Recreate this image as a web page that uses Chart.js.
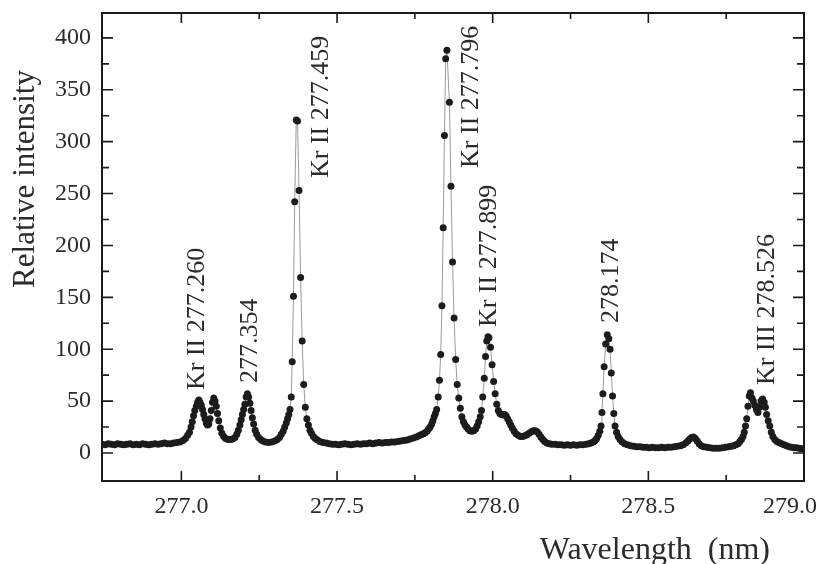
<!DOCTYPE html>
<html>
<head>
<meta charset="utf-8">
<script src="https://cdn.jsdelivr.net/npm/chart.js@4.4.1/dist/chart.umd.min.js"></script>
<style>
  html, body { margin: 0; padding: 0; background: #ffffff; }
  canvas { display: block; }
</style>
</head>
<body>
<canvas id="c" width="825" height="564"></canvas>
<script>
// ---- data ----
const wavelength = [
276.745,276.755,276.765,276.775,276.785,276.795,276.805,276.815,276.825,276.835,
276.845,276.855,276.865,276.875,276.885,276.895,276.905,276.915,276.925,276.935,
276.945,276.955,276.965,276.975,276.985,276.995,277.005,277.013,277.020,277.026,
277.031,277.035,277.039,277.043,277.048,277.052,277.056,277.060,277.064,277.068,
277.072,277.076,277.080,277.084,277.088,277.092,277.096,277.100,277.104,277.108,
277.112,277.116,277.120,277.125,277.130,277.136,277.142,277.150,277.158,277.165,
277.172,277.178,277.183,277.188,277.192,277.196,277.200,277.204,277.208,277.212,
277.216,277.220,277.224,277.228,277.232,277.237,277.242,277.248,277.255,277.262,
277.270,277.280,277.290,277.300,277.308,277.315,277.321,277.327,277.332,277.337,
277.341,277.345,277.349,277.353,277.356,277.360,277.364,277.369,277.373,277.378,
277.383,277.388,277.393,277.398,277.403,277.408,277.413,277.418,277.424,277.430,
277.437,277.445,277.455,277.465,277.475,277.485,277.495,277.505,277.515,277.525,
277.535,277.545,277.555,277.565,277.575,277.585,277.595,277.605,277.615,277.625,
277.635,277.645,277.655,277.665,277.675,277.685,277.695,277.705,277.715,277.725,
277.735,277.745,277.755,277.763,277.770,277.777,277.783,277.789,277.794,277.799,
277.804,277.808,277.812,277.816,277.820,277.825,277.829,277.833,277.837,277.841,
277.845,277.849,277.853,277.861,277.866,277.871,277.876,277.881,277.886,277.891,
277.896,277.901,277.906,277.911,277.916,277.921,277.927,277.933,277.939,277.945,
277.950,277.955,277.960,277.964,277.968,277.973,277.977,277.981,277.985,277.988,
277.993,277.998,278.003,278.008,278.013,278.018,278.023,278.028,278.033,278.038,
278.043,278.048,278.053,278.058,278.063,278.069,278.075,278.082,278.089,278.096,
278.103,278.110,278.117,278.124,278.131,278.137,278.143,278.149,278.155,278.161,
278.167,278.174,278.182,278.190,278.200,278.210,278.220,278.230,278.240,278.250,
278.260,278.270,278.280,278.290,278.300,278.308,278.316,278.323,278.329,278.334,
278.339,278.344,278.348,278.351,278.354,278.358,278.363,278.368,278.373,278.377,
278.381,278.385,278.389,278.393,278.398,278.403,278.409,278.416,278.424,278.433,
278.443,278.453,278.463,278.473,278.483,278.493,278.503,278.513,278.523,278.533,
278.543,278.553,278.563,278.573,278.583,278.593,278.603,278.612,278.620,278.627,
278.633,278.639,278.645,278.651,278.657,278.663,278.670,278.678,278.688,278.698,
278.708,278.718,278.728,278.738,278.748,278.758,278.766,278.774,278.781,278.788,
278.794,278.799,278.804,278.808,278.812,278.816,278.820,278.824,278.828,278.833,
278.837,278.842,278.847,278.852,278.857,278.862,278.867,278.872,278.876,278.880,
278.885,278.890,278.895,278.900,278.906,278.913,278.920,278.928,278.936,278.944,
278.952,278.960,278.968,278.976,278.984,278.992,279.000
];
const intensity = [
8.5,8,9,8.5,8,9,8.5,8,8.5,9,
8,8.5,8,9,8.5,8,8.5,9,8.5,9,
9.5,9,9,9.5,10,10.5,12,14,17,20,
25,30,36,41,45,49,51,49,46,42,
37,33,29,27,28,33,41,49,53,50,
45,38,31,24,19,16,14,13,13,13.5,
15,18,22,27,32,37,42,47,54,57,
54,48,41,34,28,22,18,15,13,11.5,
10.5,10,10.5,11.5,13,15,18,21,25,29,
33,37,42,54,88,151,242,321,320,253,
169,108,66,44,33,27,22,19,16,14,
12.5,11,10,9.5,9,8.5,8.5,8,8.5,9,
8.5,8,8.5,9,8.5,9,9,9.5,9,9.5,
10,9.5,10,10,10.5,10.5,11,11.5,12,12.5,
13.5,14.5,15.5,16.5,17.5,18.5,19.5,21,23,25,
28,31,35,38,42,54,70,95,142,217,
306,380,388,338,257,184,130,90,66,53,
43,35,30,27,25,23,21.5,21,21.5,23,
26,30,35,41,54,72,93,108,112,111,
102,85,69,57,47,41,38,37,36.5,37,
36,33,30,27,24,21,18.5,17,16,16,
16.5,17.5,19,20.5,21.5,21.5,20.5,18,15.5,13,
11,9.5,9,8.5,8.5,8,8,7.5,8,7.5,
8,7.5,8,8,8.5,9,9.5,10.5,12,14,
17,21,26,39,57,83,105,114,110,100,
77,55,38,26,20,16,13,10.5,9,8,
7,6.5,6,6,5.5,5.5,5,5.5,5,5,
5.5,5,5.5,5.5,6,6.5,7,8,9.5,11.5,
13.5,15,15.5,14,11.5,9,7,6,5.5,5,
4.5,4.5,4.5,5,5.5,6,6.5,7,8,9,
11,13,16,20,26,33,45,55,58,53,
50,46,42,39,44,50,52,49,44,37,
31,26,20,16,13,11,10,9,8,7,
6,5.5,5,5,4.5,4,4
];
const xTickValues = [277.0, 277.5, 278.0, 278.5, 279.0];
const xMinorValues = [277.25, 277.75, 278.25, 278.75];
const yTickValues = [0, 50, 100, 150, 200, 250, 300, 350, 400];
const yMinorValues = [25, 75, 125, 175, 225, 275, 325, 375];
const lineLabels = ['Kr II 277.260', '277.354', 'Kr II 277.459', 'Kr II 277.796', 'Kr II 277.899', '278.174', 'Kr III 278.526'];
const labelWavelength = [277.050, 277.221, 277.449, 277.931, 277.990, 278.381, 278.881];
const labelIntensity = [60.7, 67.5, 265, 274.7, 121.4, 125.3, 65.5];
const xTitle = 'Wavelength  (nm)';
const yTitle = 'Relative intensity';

// ---- rendering ----
const FONT = '"Liberation Serif", "Times New Roman", serif';
const TEXT = '#2b2b2b';
const points = wavelength.map((w, i) => ({ x: w, y: intensity[i] }));

const framePlugin = {
  id: 'frame',
  afterDatasetsDraw(chart) {
    const { ctx, chartArea: a, scales: { x, y } } = chart;
    ctx.save();
    ctx.strokeStyle = '#1a1a1a';
    ctx.lineWidth = 2;
    ctx.strokeRect(a.left, a.top, a.right - a.left, a.bottom - a.top);
    ctx.lineWidth = 1.6;
    ctx.beginPath();
    const vt = (v, len) => {
      const px = x.getPixelForValue(v);
      ctx.moveTo(px, a.bottom); ctx.lineTo(px, a.bottom - len);
      ctx.moveTo(px, a.top); ctx.lineTo(px, a.top + len);
    };
    const ht = (v, len) => {
      const py = y.getPixelForValue(v);
      ctx.moveTo(a.left, py); ctx.lineTo(a.left + len, py);
      ctx.moveTo(a.right, py); ctx.lineTo(a.right - len, py);
    };
    xTickValues.forEach(v => vt(v, 10));
    xMinorValues.forEach(v => vt(v, 6));
    yTickValues.forEach(v => ht(v, 11));
    yMinorValues.forEach(v => ht(v, 7));
    ctx.stroke();

    // x tick labels (last one kept inside the page as in the original)
    ctx.fillStyle = TEXT;
    ctx.font = '24px ' + FONT;
    ctx.textBaseline = 'alphabetic';
    ctx.textAlign = 'center';
    xTickValues.forEach((v, i) => {
      let px = x.getPixelForValue(v);
      if (i === xTickValues.length - 1) px -= 14;
      ctx.fillText(v.toFixed(1), px, a.bottom + 32);
    });

    ctx.font = '26px ' + FONT;
    ctx.textAlign = 'left';
    ctx.textBaseline = 'middle';
    lineLabels.forEach((t, i) => {
      const px = x.getPixelForValue(labelWavelength[i]);
      const py = y.getPixelForValue(labelIntensity[i]);
      ctx.save();
      ctx.translate(px, py);
      ctx.rotate(-Math.PI / 2);
      ctx.fillText(t, 0, 0);
      ctx.restore();
    });

    ctx.font = '32px ' + FONT;
    ctx.textAlign = 'right';
    ctx.textBaseline = 'alphabetic';
    ctx.fillText(xTitle, a.right - 34, a.bottom + 78);

    ctx.font = '31px ' + FONT;
    ctx.save();
    ctx.translate(a.left - 68, a.top + 166);
    ctx.rotate(-Math.PI / 2);
    ctx.textAlign = 'center';
    ctx.fillText(yTitle, 0, 0);
    ctx.restore();
    ctx.restore();
  }
};

new Chart(document.getElementById('c'), {
  type: 'scatter',
  data: {
    datasets: [{
      data: points,
      showLine: true,
      borderColor: '#808080',
      borderWidth: 0.8,
      pointRadius: 3.5,
      pointBorderWidth: 0,
      pointBackgroundColor: '#1c1c1c',
      pointHoverRadius: 3.5
    }]
  },
  options: {
    responsive: false,
    animation: false,
    events: [],
    layout: { padding: { left: 0, right: 21, top: 13, bottom: 0 } },
    plugins: { legend: { display: false }, tooltip: { enabled: false } },
    scales: {
      x: {
        type: 'linear',
        min: 276.745,
        max: 279.0,
        afterBuildTicks: s => { s.ticks = xTickValues.map(v => ({ value: v })); },
        afterFit: s => { s.height = 83; s.paddingLeft = 0; s.paddingRight = 0; },
        grid: { display: false, drawTicks: false },
        border: { display: false },
        ticks: { display: false }
      },
      y: {
        type: 'linear',
        min: -27,
        max: 424,
        afterBuildTicks: s => { s.ticks = yTickValues.map(v => ({ value: v })); },
        afterFit: s => { s.width = 102; s.paddingTop = 0; s.paddingBottom = 0; },
        grid: { display: false, drawTicks: false },
        border: { display: false },
        ticks: {
          padding: 11,
          color: TEXT,
          font: { family: FONT, size: 24 },
          autoSkip: false,
          callback: v => String(v)
        }
      }
    }
  },
  plugins: [framePlugin]
});
</script>
</body>
</html>
